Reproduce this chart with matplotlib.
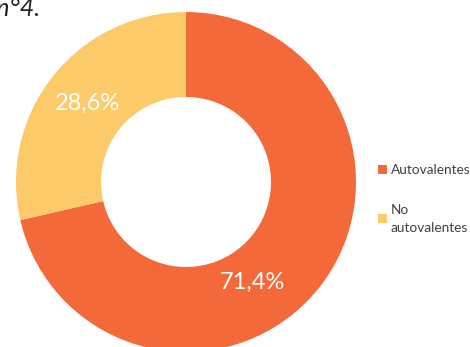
import matplotlib.pyplot as plt
from matplotlib.patches import Patch

plt.rcParams['font.family'] = ['Lato', 'DejaVu Sans']

labels = ["Autovalentes", "No\nautovalentes"]
values = [71.4, 28.6]
pct_text = ["71,4%", "28,6%"]
colors = ["#F3693A", "#FDCA6A"]

fig = plt.figure(figsize=(4.7, 3.47), dpi=100)
ax = fig.add_axes([0, 0, 1, 1])

cx, cy, r = 186, 182, 170
ax.pie(values, colors=colors, startangle=90, counterclock=False,
       radius=1, wedgeprops=dict(width=0.5, linewidth=0))
ax.set_xlim(-cx / r, (470 - cx) / r)
ax.set_ylim(-(347 - cy) / r, cy / r)
ax.set_aspect('auto')
ax.set_axis_off()

# percentage labels
ax.text(0.388, -0.588, pct_text[0], color="white", fontsize=17,
        ha="center", va="center")
ax.text(-0.582, 0.465, pct_text[1], color="white", fontsize=17,
        ha="center", va="center")

# cut-off caption from the page
fig.text(40 / 470, 1 - 16 / 347, "Gráfico n°4.", fontsize=18, style="italic",
         ha="right", va="baseline", color="#222222")

handles = [Patch(facecolor=c, edgecolor="none") for c in colors]
leg = fig.legend(handles, labels, loc="center left", bbox_to_anchor=(378 / 470, 1 - 199 / 347),
                 frameon=False, fontsize=9.8, handlelength=0.65, handleheight=0.65,
                 handletextpad=0.3, labelspacing=2.0, alignment="left",
                 borderpad=0, borderaxespad=0, labelcolor="#404040")
for t in leg.get_texts():
    t.set_linespacing(1.6)

fig.savefig("out.png", dpi=100)
